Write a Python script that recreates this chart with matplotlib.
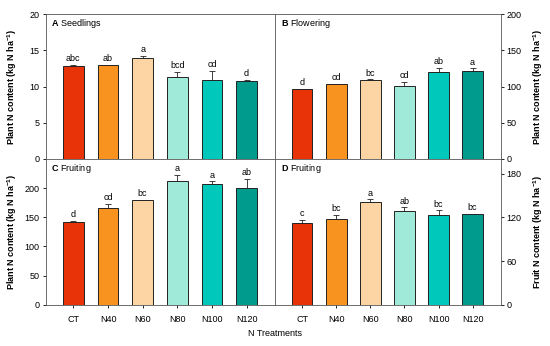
import numpy as np
import matplotlib.pyplot as plt

plt.rcParams['font.family'] = ['Liberation Sans', 'DejaVu Sans']
plt.rcParams['mathtext.fontset'] = 'custom'
plt.rcParams['mathtext.rm'] = 'Liberation Sans'
plt.rcParams['mathtext.bf'] = 'Liberation Sans:bold'

##### Datos ####
tratamientos = ['CT', 'N40', 'N60', 'N80', 'N100', 'N120']
colores = ['#E83309', '#F7931E', '#FDD4A4', '#A0EAD9', '#00C8BB', '#009B8C']

seedlings = [12.8, 13.0, 13.9, 11.3, 10.95, 10.8]
seedlings_err = [0.15, 0.05, 0.3, 0.7, 1.25, 0.1]
seedlings_let = ['abc', 'ab', 'a', 'bcd', 'cd', 'd']

flowering = [96, 103, 109, 101, 120, 122]
flowering_err = [1, 1.2, 1, 6, 5.5, 3]
flowering_let = ['d', 'cd', 'bc', 'cd', 'ab', 'a']

fruiting_plant = [142, 166.5, 179.5, 213, 207, 201]
fruiting_plant_err = [1.5, 7, 1, 10, 4.7, 15]
fruiting_plant_let = ['d', 'cd', 'bc', 'a', 'a', 'ab']

fruiting_fruit = [112, 117.5, 140.5, 128.5, 123.5, 124]
fruiting_fruit_err = [4.5, 5.5, 4, 5, 6, 1]
fruiting_fruit_let = ['c', 'bc', 'a', 'ab', 'bc', 'bc']

fs = 6.5
lbl_plant = r'Plant N content (kg N ha$^{\mathbf{-1}}$)'
lbl_fruit = r'Fruit N content (kg N ha$^{\mathbf{-1}}$)'

fig = plt.figure(figsize=(5.5, 3.46), dpi=100)
L, M, R = 0.083, 0.5, 0.910
B, C, T = 0.119, 0.5405, 0.959

paneles = [
    ([L, C, M - L, T - C], seedlings, seedlings_err, seedlings_let, 'A', 'Seedlings', (0, 20), np.arange(0, 21, 5), 'left', lbl_plant, False),
    ([M, C, R - M, T - C], flowering, flowering_err, flowering_let, 'B', 'Flowering', (0, 200), np.arange(0, 201, 50), 'right', lbl_plant, False),
    ([L, B, M - L, C - B], fruiting_plant, fruiting_plant_err, fruiting_plant_let, 'C', 'Fruiting', (0, 250), np.arange(0, 201, 50), 'left', lbl_plant, True),
    ([M, B, R - M, C - B], fruiting_fruit, fruiting_fruit_err, fruiting_fruit_let, 'D', 'Fruiting', (0, 200), np.arange(0, 181, 60), 'right', lbl_fruit, True),
]

x = np.arange(len(tratamientos))
for rect, vals, errs, lets, letra, titulo, ylim, yt, lado, ylab, abajo in paneles:
    ax = fig.add_axes(rect)
    ax.bar(x, vals, width=0.6, color=colores, edgecolor='#222222', linewidth=0.7, zorder=2)
    ax.errorbar(x, vals, yerr=[np.zeros(len(vals)), errs], fmt='none', ecolor='#222222',
                elinewidth=0.6, capsize=2, capthick=0.6, zorder=1)
    off = (ylim[1] - ylim[0]) * 0.012
    for xi, v, e, t in zip(x, vals, errs, lets):
        ax.text(xi, v + e + off, t, ha='center', va='bottom', fontsize=fs)
    ax.set_xlim(-0.8, 5.82)
    ax.set_ylim(*ylim)
    ax.set_yticks(yt)
    for s in ax.spines.values():
        s.set_linewidth(0.6)
        s.set_color('#555555')
    ax.tick_params(labelsize=fs, width=0.6, length=2.5, pad=2, colors='black')
    yc = rect[1] + rect[3] / 2
    if lado == 'right':
        ax.yaxis.tick_right()
        fig.text(0.979, yc, ylab, rotation=90, ha='center', va='center',
                 fontsize=fs, fontweight='bold')
    else:
        fig.text(0.0225, yc, ylab, rotation=90, ha='center', va='center',
                 fontsize=fs, fontweight='bold')
    if abajo:
        ax.set_xticks(x)
        ax.set_xticklabels(tratamientos)
        ax.tick_params(axis='x', length=2, pad=5)
    else:
        ax.set_xticks([])
    ax.text(0.025, 0.935, r'$\mathbf{' + letra + '}$ ' + titulo, transform=ax.transAxes,
            fontsize=fs, va='center', ha='left')

fig.text(0.5, 0.037, 'N Treatments', ha='center', va='center', fontsize=fs)

plt.savefig('out.png', dpi=100)
